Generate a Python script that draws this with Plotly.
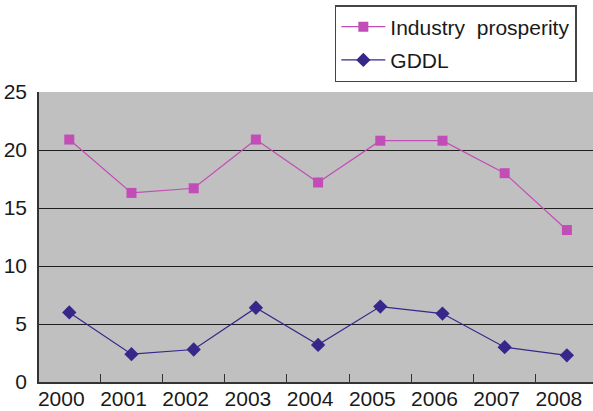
import plotly.graph_objects as go

years = [2000, 2001, 2002, 2003, 2004, 2005, 2006, 2007, 2008]
industry_prosperity = [20.9, 16.3, 16.7, 20.9, 17.2, 20.8, 20.8, 18.0, 13.1]
gddl = [6.0, 2.4, 2.8, 6.4, 3.2, 6.5, 5.9, 3.0, 2.3]
y_ticks = [0, 5, 10, 15, 20, 25]

FONT = "Liberation Sans, Arial, Helvetica, sans-serif"
PINK = "#c24db6"
NAVY = "#36278a"

fig = go.Figure()
fig.add_trace(go.Scatter(
    x=years, y=industry_prosperity, name="Industry\u00a0 prosperity",
    mode="lines+markers", legendgroup="a",
    line=dict(color=PINK, width=1.2),
    marker=dict(symbol="square", size=10, color=PINK),
))
fig.add_trace(go.Scatter(
    x=years, y=gddl, name="GDDL",
    mode="lines+markers", legendgroup="b",
    line=dict(color=NAVY, width=1.2),
    marker=dict(symbol="diamond", size=11, color=NAVY),
))

fig.update_layout(
    width=593, height=411,
    margin=dict(l=39, r=0, t=92, b=29, autoexpand=False),
    paper_bgcolor="white",
    plot_bgcolor="#c0c0c0",
    font=dict(family=FONT, size=21, color="#1a1a1a"),
    showlegend=True,
    legend=dict(
        x=0.534, y=1.30, xanchor="left", yanchor="top",
        bgcolor="white", bordercolor="#444", borderwidth=1.5,
        font=dict(size=21), itemwidth=44, tracegroupgap=3,
    ),
)

fig.update_xaxes(
    range=[1999.513, 2008.42], automargin=False,
    tickmode="array", tickvals=years, ticktext=[str(y) for y in years],
    ticks="", showgrid=False, zeroline=False,
    showline=True, linecolor="#333", linewidth=1.5,
    ticklabelshift=-8, ticklabelstandoff=-3,
    minor=dict(
        tickmode="array", tickvals=[y + 0.5 for y in years[:-1]],
        ticks="inside", ticklen=8, tickwidth=1.2, tickcolor="#333",
        showgrid=False,
    ),
)
fig.update_yaxes(
    range=[0, 25], automargin=False,
    tickmode="array", tickvals=y_ticks,
    ticks="", showgrid=False, zeroline=False,
    showline=True, linecolor="#333", linewidth=1.5,
    ticklabelstandoff=6,
    minor=dict(
        tickmode="array", tickvals=y_ticks[1:-1],
        showgrid=True, gridcolor="#1e1e1e", gridwidth=1.3,
    ),
)

fig.write_html("out.html")
